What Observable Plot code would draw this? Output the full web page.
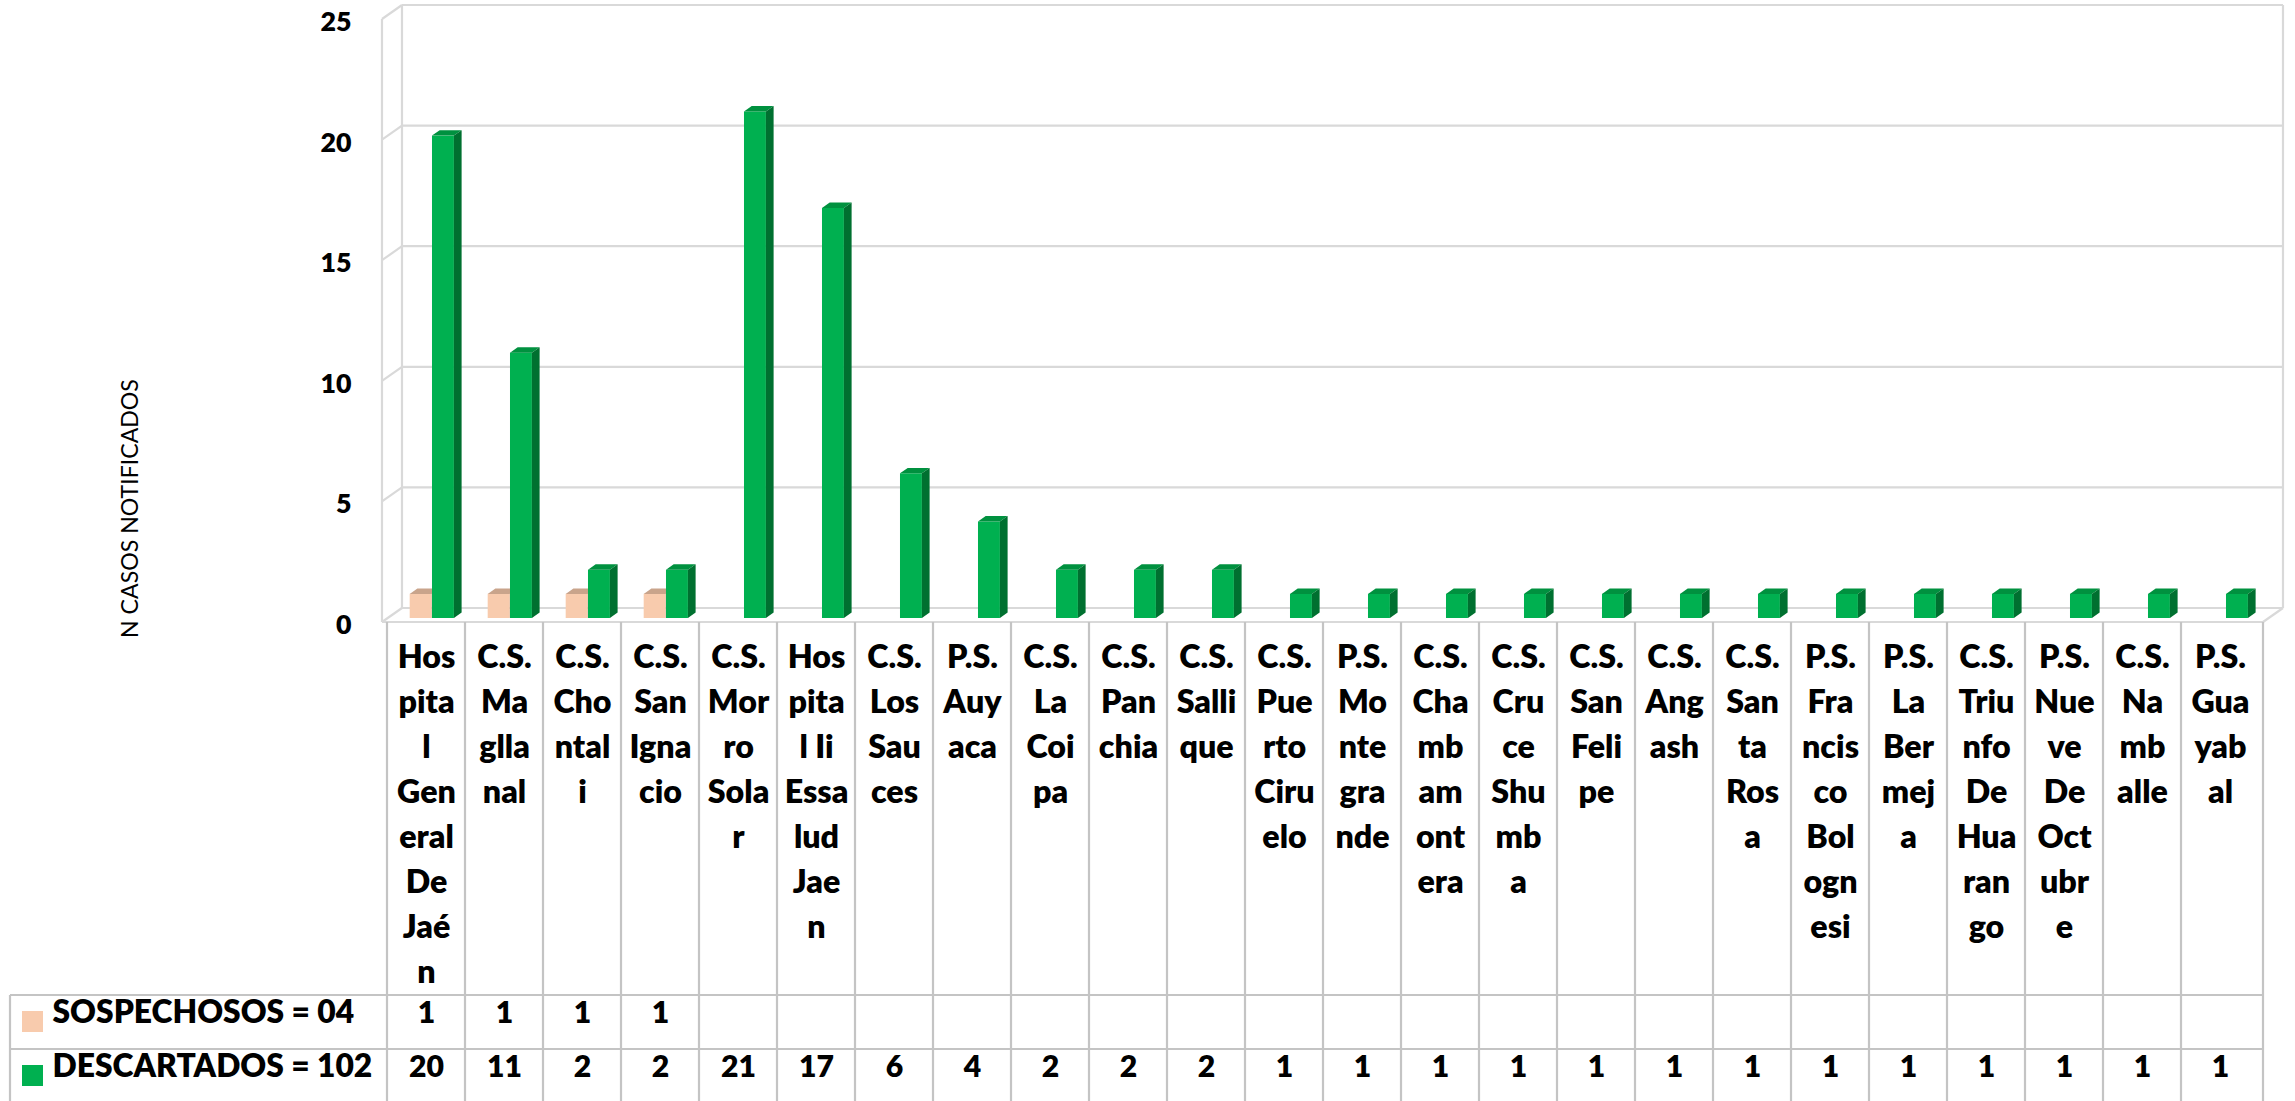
<!DOCTYPE html>
<html>
<head>
<meta charset="utf-8">
<script src="https://cdn.jsdelivr.net/npm/d3@7"></script>
<script src="https://cdn.jsdelivr.net/npm/@observablehq/plot@0.6"></script>
<style>
  html, body { margin: 0; padding: 0; background: #fff; overflow: hidden; }
  #chart svg { display: block; }
</style>
</head>
<body>
<div id="chart"></div>
<script>
// ---------- DATA ----------
const categories = [
  "Hospital General De Jaén", "C.S. Magllanal", "C.S. Chontali", "C.S. San Ignacio",
  "C.S. Morro Solar", "Hospital Ii Essalud Jaen", "C.S. Los Sauces", "P.S. Auyaca",
  "C.S. La Coipa", "C.S. Panchia", "C.S. Sallique", "C.S. Puerto Ciruelo",
  "P.S. Montegrande", "C.S. Chambamontera", "C.S. Cruce Shumba", "C.S. San Felipe",
  "C.S. Angash", "C.S. Santa Rosa", "P.S. Francisco Bolognesi", "P.S. La Bermeja",
  "C.S. Triunfo De Huarango", "P.S. Nueve De Octubre", "C.S. Namballe", "P.S. Guayabal"
];
// tick labels as wrapped in the reference
const categoryLines = [
  ["Hos","pita","l","Gen","eral","De","Jaé","n"],
  ["C.S.","Ma","glla","nal"],
  ["C.S.","Cho","ntal","i"],
  ["C.S.","San","Igna","cio"],
  ["C.S.","Mor","ro","Sola","r"],
  ["Hos","pita","l Ii","Essa","lud","Jae","n"],
  ["C.S.","Los","Sau","ces"],
  ["P.S.","Auy","aca"],
  ["C.S.","La","Coi","pa"],
  ["C.S.","Pan","chia"],
  ["C.S.","Salli","que"],
  ["C.S.","Pue","rto","Ciru","elo"],
  ["P.S.","Mo","nte","gra","nde"],
  ["C.S.","Cha","mb","am","ont","era"],
  ["C.S.","Cru","ce","Shu","mb","a"],
  ["C.S.","San","Feli","pe"],
  ["C.S.","Ang","ash"],
  ["C.S.","San","ta","Ros","a"],
  ["P.S.","Fra","ncis","co","Bol","ogn","esi"],
  ["P.S.","La","Ber","mej","a"],
  ["C.S.","Triu","nfo","De","Hua","ran","go"],
  ["P.S.","Nue","ve","De","Oct","ubr","e"],
  ["C.S.","Na","mb","alle"],
  ["P.S.","Gua","yab","al"]
];
const sospechosos = [1, 1, 1, 1, null, null, null, null, null, null, null, null,
                     null, null, null, null, null, null, null, null, null, null, null, null];
const descartados = [20, 11, 2, 2, 21, 17, 6, 4, 2, 2, 2, 1,
                     1, 1, 1, 1, 1, 1, 1, 1, 1, 1, 1, 1];
const seriesLabels = ["SOSPECHOSOS = 04", "DESCARTADOS = 102"];
const yTicks = [0, 5, 10, 15, 20, 25];
const yTitle = "N CASOS NOTIFICADOS";

// ---------- STYLE / LAYOUT ----------
const W = 2295, H = 1101;
const M = {top: 19, right: 32, bottom: 479, left: 382};
const colors = {
  peach: "#F8CBAD", peachTop: "#C9A48B", peachSide: "#D9AE92",
  green: "#00B050", greenTop: "#00913F", greenSide: "#007030",
  wall: "#D9D9D9", table: "#C4C4C4"
};
const wallDepth = {dx: 20, dy: 14};
const barPlane = {dx: 5.8, dy: 4};
const barDepth = {dx: 7.7, dy: 5.4};
const barW = 22.3;
const step = (W - M.left - M.right) / categories.length;
const half = step / 2;
const headerHeight = 373, rowHeight = 54, lineStep = 45;
const tableLeft = 10;
const font = "Lato, 'Open Sans', sans-serif";
const heavy = 800;

// font sizes calibrated to the rendered text widths of the reference
const ctx = document.createElement("canvas").getContext("2d");
function fitSize(text, targetWidth, weight) {
  ctx.font = `${weight} 100px ${font}`;
  return 100 * targetWidth / ctx.measureText(text).width;
}
const catFs = (fitSize("C.S.", 55, heavy) + fitSize("Hos", 57, heavy)) / 2;
const legendFs = fitSize("DESCARTADOS = 102", 320, heavy);
const valueFs = fitSize("20", 35, heavy);
const tickFs = fitSize("25", 31, heavy);
const titleFs = fitSize(yTitle, 259, 400);

const sosData = categories.map((c, i) => ({cat: c, value: sospechosos[i]})).filter(d => d.value != null);
const desData = categories.map((c, i) => ({cat: c, value: descartados[i]})).filter(d => d.value != null);

// 3D walls (back wall gridlines, side wall, floor) derived from the scales
function walls(index, scales, values, dim) {
  const y = scales.y;
  const x0 = dim.marginLeft, x1 = dim.width - dim.marginRight;
  const {dx, dy} = wallDepth;
  const g = d3.create("svg:g").attr("stroke", colors.wall).attr("stroke-width", 2.2).attr("fill", "none");
  const ln = (a, b, c, d) => g.append("line").attr("x1", a).attr("y1", b).attr("x2", c).attr("y2", d);
  const yLo = y(yTicks[0]), yHi = y(yTicks[yTicks.length - 1]);
  for (const t of yTicks) {
    ln(x0 + dx, y(t) - dy, x1 + dx, y(t) - dy);      // back wall gridline
    ln(x0, y(t), x0 + dx, y(t) - dy);                // side wall diagonal
  }
  ln(x0, yLo, x0, yHi);                              // front-left edge
  ln(x0 + dx, yLo - dy, x0 + dx, yHi - dy);          // back-left edge
  ln(x1 + dx, yLo - dy, x1 + dx, yHi - dy);          // back-right edge
  ln(x0, yLo, x1, yLo);                              // floor front edge
  ln(x1, yLo, x1 + dx, yLo - dy);                    // floor right edge
  return g.node();
}

// data table grid + legend swatches
function tableGrid(index, scales, values, dim) {
  const x = scales.x, y = scales.y;
  const x1 = dim.width - dim.marginRight;
  const y0 = y(0);
  const g = d3.create("svg:g");
  const lines = g.append("g").attr("stroke", colors.table).attr("stroke-width", 2.2);
  const ln = (a, b, c, d) => lines.append("line").attr("x1", a).attr("y1", b).attr("x2", c).attr("y2", d);
  categories.forEach(c => ln(x(c), y0, x(c), dim.height));
  ln(x1, y0, x1, dim.height);
  const r1 = y0 + headerHeight, r2 = r1 + rowHeight;
  ln(tableLeft, r1, x1, r1);
  ln(tableLeft, r2, x1, r2);
  ln(tableLeft, r1, tableLeft, dim.height);
  [colors.peach, colors.green].forEach((col, i) => {
    g.append("rect").attr("x", 22).attr("y", r1 + 16 + i * rowHeight)
      .attr("width", 21).attr("height", 21).attr("fill", col);
  });
  return g.node();
}

// top and side faces of the 3D columns
const faces = (data, topColor, sideColor, insetL, insetR) => (index, scales, values, dim) => {
  const g = d3.create("svg:g");
  const bw = scales.x.bandwidth ? scales.x.bandwidth() : step;
  const {dx, dy} = barDepth;
  for (const d of data) {
    const xl = scales.x(d.cat) + insetL + barPlane.dx;
    const xr = scales.x(d.cat) + bw - insetR + barPlane.dx;
    const yt = scales.y(d.value) - barPlane.dy;
    const yb = scales.y(0) - barPlane.dy;
    g.append("path").attr("fill", topColor)
      .attr("d", `M${xl},${yt}L${xr},${yt}L${xr + dx},${yt - dy}L${xl + dx},${yt - dy}Z`);
    g.append("path").attr("fill", sideColor)
      .attr("d", `M${xr},${yt}L${xr + dx},${yt - dy}L${xr + dx},${yb - dy}L${xr},${yb}Z`);
  }
  return g.node();
};

const chart = Plot.plot({
  width: W, height: H,
  marginTop: M.top, marginRight: M.right, marginBottom: M.bottom, marginLeft: M.left,
  style: {fontFamily: font, background: "#fff", color: "#000", overflow: "visible"},
  x: {type: "band", domain: categories, padding: 0, axis: null},
  y: {domain: [0, 25]},
  marks: [
    walls,
    tableGrid,
    Plot.axisY({ticks: yTicks, tickSize: 0, tickPadding: 31, fontSize: tickFs, fontWeight: heavy, dy: 3, label: null}),
    Plot.text([yTitle], {frameAnchor: "left", rotate: -90, dx: 130 - M.left, dy: 317, fontSize: titleFs, fontWeight: "normal"}),
    Plot.barY(sosData, {x: "cat", y: "value", fill: colors.peach, insetLeft: half - barW, insetRight: half, dx: barPlane.dx, dy: -barPlane.dy}),
    faces(sosData, colors.peachTop, colors.peachSide, half - barW, half),
    Plot.barY(desData, {x: "cat", y: "value", fill: colors.green, insetLeft: half, insetRight: half - barW, dx: barPlane.dx, dy: -barPlane.dy}),
    faces(desData, colors.greenTop, colors.greenSide, half, half - barW),
    Plot.text(categories, {x: d => d, text: (d, i) => categoryLines[i].join("\n"), frameAnchor: "bottom",
      lineAnchor: "top", lineHeight: lineStep / catFs, dy: 14, fontSize: catFs, fontWeight: heavy}),
    Plot.text(sosData, {x: "cat", text: d => String(d.value), frameAnchor: "bottom", dy: headerHeight + rowHeight / 2, fontSize: valueFs, fontWeight: heavy}),
    Plot.text(desData, {x: "cat", text: d => String(d.value), frameAnchor: "bottom", dy: headerHeight + rowHeight * 1.5, fontSize: valueFs, fontWeight: heavy}),
    ...seriesLabels.map((s, i) => Plot.text([s], {frameAnchor: "bottom-left", textAnchor: "start",
      dx: 52 - M.left, dy: headerHeight + rowHeight * (i + 0.5), fontSize: legendFs, fontWeight: heavy}))
  ]
});
document.getElementById("chart").appendChild(chart);
</script>
</body>
</html>
